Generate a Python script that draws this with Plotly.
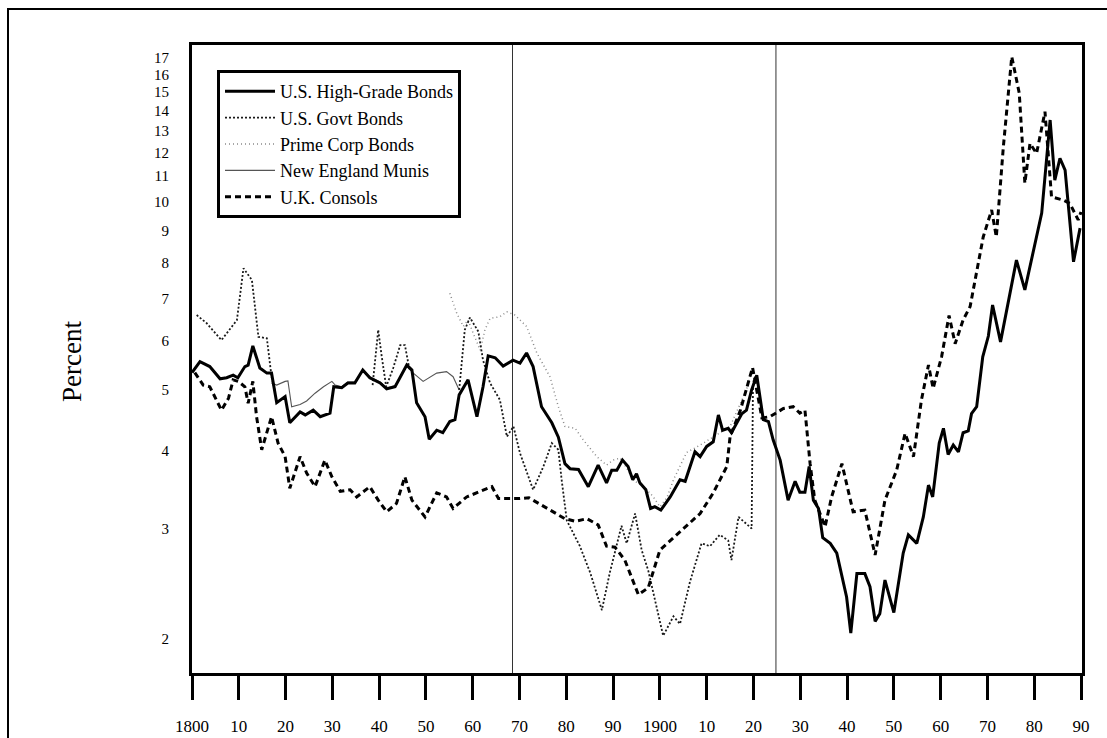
import plotly.graph_objects as go

# ---- series: (year, percent) ----
high_grade = [
    (1800.0, 5.33), (1801.7, 5.55), (1803.8, 5.45), (1806.0, 5.21), (1807.4, 5.23),
    (1808.8, 5.28), (1809.8, 5.23), (1811.3, 5.45), (1812.0, 5.48), (1813.0, 5.88),
    (1814.5, 5.42), (1816.0, 5.32), (1817.0, 5.32), (1818.1, 4.77), (1819.9, 4.88),
    (1820.9, 4.43), (1823.1, 4.61), (1824.2, 4.56), (1825.9, 4.64), (1827.4, 4.53),
    (1829.5, 4.59), (1830.3, 5.06), (1832.0, 5.04), (1833.3, 5.13), (1834.8, 5.13),
    (1836.5, 5.38), (1838.0, 5.23), (1840.2, 5.13), (1841.6, 5.02), (1843.4, 5.06),
    (1845.9, 5.48), (1847.0, 5.38), (1848.0, 4.77), (1849.8, 4.53), (1850.7, 4.17),
    (1852.3, 4.31), (1853.6, 4.27), (1855.1, 4.45), (1856.2, 4.48), (1857.1, 4.91),
    (1859.0, 5.19), (1860.9, 4.53), (1862.2, 5.06), (1863.3, 5.67), (1864.8, 5.63),
    (1866.5, 5.46), (1868.6, 5.58), (1870.1, 5.52), (1871.5, 5.73), (1872.9, 5.45),
    (1874.7, 4.70), (1876.9, 4.43), (1878.3, 4.20), (1879.7, 3.81), (1880.8, 3.74),
    (1882.6, 3.73), (1884.7, 3.50), (1886.8, 3.79), (1888.6, 3.55), (1889.7, 3.72),
    (1890.8, 3.72), (1892.0, 3.86), (1893.2, 3.77), (1894.2, 3.59), (1895.0, 3.67),
    (1895.7, 3.55), (1897.0, 3.46), (1898.0, 3.23), (1898.9, 3.25), (1900.2, 3.21),
    (1902.2, 3.37), (1904.3, 3.59), (1905.4, 3.57), (1907.5, 3.98), (1908.6, 3.91),
    (1910.0, 4.06), (1911.4, 4.13), (1912.5, 4.56), (1913.4, 4.31), (1914.6, 4.34),
    (1915.3, 4.27), (1916.4, 4.42), (1917.5, 4.58), (1918.5, 4.64), (1919.6, 5.00),
    (1920.7, 5.28), (1921.4, 4.88), (1922.1, 4.48), (1923.2, 4.45), (1924.2, 4.16),
    (1925.7, 3.86), (1927.4, 3.33), (1928.9, 3.57), (1929.9, 3.43), (1931.0, 3.43),
    (1931.9, 3.77), (1932.8, 3.33), (1933.9, 3.23), (1934.8, 2.90), (1936.4, 2.84),
    (1937.8, 2.74), (1939.9, 2.33), (1940.8, 2.04), (1942.1, 2.54), (1943.8, 2.54),
    (1944.9, 2.42), (1946.0, 2.13), (1947.0, 2.19), (1948.1, 2.48), (1950.0, 2.20),
    (1952.0, 2.74), (1953.1, 2.93), (1954.9, 2.84), (1956.3, 3.13), (1957.4, 3.52),
    (1958.3, 3.37), (1959.7, 4.11), (1960.6, 4.34), (1961.6, 3.94), (1962.7, 4.08),
    (1963.8, 3.98), (1964.8, 4.27), (1965.9, 4.30), (1966.6, 4.58), (1967.7, 4.70),
    (1969.0, 5.65), (1970.2, 6.10), (1971.1, 6.84), (1972.8, 5.97), (1974.5, 6.97),
    (1976.2, 8.07), (1978.0, 7.23), (1980.5, 8.79), (1981.6, 9.60), (1983.4, 13.53),
    (1984.4, 10.84), (1985.5, 11.75), (1986.6, 11.25), (1988.4, 8.02), (1989.8, 9.08),
]

# None entries break the line between separate runs of quotations
us_govt = [
    (1801.0, 6.59), (1803.1, 6.40), (1806.3, 6.01), (1809.6, 6.47), (1811.0, 7.83),
    (1812.8, 7.50), (1814.2, 6.08), (1816.0, 6.05), (1817.0, 5.25), (1817.7, 5.00),
    (1818.0, None),
    (1838.6, 5.09), (1839.8, 6.24), (1840.5, 5.69), (1841.5, 5.06), (1843.0, 5.42),
    (1844.5, 5.90), (1845.5, 5.90), (1846.5, 5.38),
    (1850.0, None),
    (1857.1, 5.00), (1858.3, 6.24), (1859.4, 6.53), (1861.2, 6.20), (1862.2, 5.58),
    (1863.7, 5.13), (1865.8, 4.82), (1867.3, 4.21), (1868.7, 4.37), (1870.1, 3.96),
    (1872.9, 3.46), (1875.1, 3.77), (1876.9, 4.11), (1878.3, 4.01), (1879.0, 3.59),
    (1880.1, 3.09), (1882.9, 2.81), (1885.1, 2.55), (1887.6, 2.22), (1889.3, 2.55),
    (1891.8, 3.03), (1892.9, 2.84), (1894.7, 3.17), (1896.1, 2.77), (1897.5, 2.57),
    (1899.3, 2.25), (1900.7, 2.02), (1902.9, 2.17), (1904.3, 2.11), (1906.4, 2.46),
    (1908.9, 2.84), (1910.7, 2.81), (1912.8, 2.93), (1914.6, 2.87), (1915.3, 2.67),
    (1916.8, 3.13), (1918.9, 3.04), (1919.6, 3.00), (1919.9, 5.13), (1920.3, 5.25),
]

prime_corp = [
    (1855.1, 7.14), (1856.6, 6.63), (1858.0, 6.32), (1859.0, 6.47), (1860.3, 6.11),
    (1861.6, 5.79), (1862.6, 6.24), (1863.7, 6.51), (1865.8, 6.55), (1867.3, 6.67),
    (1869.0, 6.59), (1871.5, 6.32), (1873.7, 5.73), (1876.5, 5.25), (1878.3, 4.70),
    (1879.7, 4.37), (1881.9, 4.34), (1883.6, 4.16), (1886.5, 3.91), (1888.6, 3.79),
    (1890.0, 3.86), (1891.5, 3.89), (1892.9, 3.75), (1894.3, 3.59), (1897.2, 3.46),
    (1898.6, 3.37), (1900.0, 3.25), (1901.5, 3.36), (1902.9, 3.59), (1905.7, 3.97),
    (1908.6, 4.08), (1911.4, 4.21), (1915.0, 4.37), (1918.5, 5.00), (1919.8, 5.43),
]

ne_munis = [
    (1817.0, 5.13), (1818.1, 5.09), (1819.9, 5.16), (1820.5, 5.17), (1821.3, 4.70),
    (1823.1, 4.74), (1824.5, 4.80), (1826.3, 4.94), (1828.1, 5.06), (1829.9, 5.16),
    (1830.6, 5.09), (1832.0, 5.06), (1833.3, 5.15), (1834.8, 5.15), (1836.5, 5.38),
    (1838.0, 5.25), (1840.2, 5.15), (1841.6, 5.04), (1843.4, 5.08), (1845.9, 5.46),
    (1847.3, 5.32), (1849.4, 5.16), (1852.3, 5.32), (1854.4, 5.35), (1855.8, 5.25),
    (1857.1, 5.00),
]

uk_consols = [
    (1800.6, 5.33), (1802.4, 5.09), (1803.8, 5.06), (1806.3, 4.64), (1807.8, 4.85),
    (1808.8, 5.19), (1809.9, 5.16), (1811.3, 5.06), (1812.0, 4.76), (1813.0, 5.16),
    (1813.8, 4.53), (1814.9, 4.01), (1817.0, 4.53), (1818.4, 4.11), (1819.9, 3.91),
    (1820.9, 3.48), (1823.1, 3.91), (1824.5, 3.68), (1826.3, 3.50), (1828.4, 3.86),
    (1829.9, 3.63), (1831.7, 3.44), (1833.8, 3.46), (1835.2, 3.37), (1838.0, 3.50),
    (1839.8, 3.33), (1841.6, 3.19), (1843.7, 3.29), (1845.5, 3.63), (1847.0, 3.33),
    (1849.8, 3.13), (1852.3, 3.42), (1854.4, 3.37), (1855.8, 3.23), (1858.7, 3.37),
    (1861.6, 3.44), (1864.1, 3.50), (1865.5, 3.35), (1870.1, 3.35), (1872.0, 3.36),
    (1876.5, 3.21), (1879.7, 3.11), (1881.9, 3.08), (1884.4, 3.11), (1886.8, 3.04),
    (1888.6, 2.81), (1890.4, 2.80), (1892.5, 2.67), (1895.4, 2.35), (1897.5, 2.41),
    (1900.0, 2.77), (1902.9, 2.90), (1905.7, 3.02), (1908.6, 3.17), (1911.4, 3.42),
    (1914.3, 3.77), (1915.0, 4.21), (1917.2, 4.64), (1919.8, 5.43), (1921.8, 4.51),
    (1923.5, 4.53), (1926.4, 4.67), (1928.5, 4.70), (1929.9, 4.59), (1931.0, 4.64),
    (1932.1, 3.81), (1933.1, 3.33), (1935.3, 3.02), (1936.7, 3.37), (1938.9, 3.81),
    (1941.3, 3.19), (1943.8, 3.21), (1946.0, 2.72), (1948.1, 3.33), (1950.6, 3.72),
    (1952.4, 4.26), (1954.2, 3.91), (1955.9, 4.82), (1957.4, 5.48), (1958.4, 5.03),
    (1960.2, 5.65), (1961.8, 6.58), (1963.1, 5.93), (1964.8, 6.47), (1966.3, 6.80),
    (1969.1, 8.79), (1970.9, 9.71), (1971.9, 8.79), (1973.4, 12.25), (1975.2, 17.09),
    (1976.8, 14.94), (1978.0, 10.72), (1979.1, 12.41), (1980.5, 11.96), (1982.3, 13.95),
    (1983.7, 10.19), (1986.2, 10.07), (1987.6, 9.95), (1989.4, 9.36), (1990.0, 9.64),
]

# period dividers
dividers = [1868.5, 1924.8]

x_tickvals = list(range(1800, 1991, 10))
x_ticktext = ["1800", "10", "20", "30", "40", "50", "60", "70", "80", "90",
              "1900", "10", "20", "30", "40", "50", "60", "70", "80", "90"]
y_tickvals = [2, 3, 4, 5, 6, 7, 8, 9, 10, 11, 12, 13, 14, 15, 16, 17]

SERIF = "Liberation Serif, Times New Roman, serif"


def xs(series):
    return [p[0] for p in series]


def ys(series):
    return [p[1] for p in series]


fig = go.Figure()

# thin series first so the heavy lines sit on top
fig.add_trace(go.Scatter(
    x=xs(ne_munis), y=ys(ne_munis), mode="lines", name="New England Munis",
    legendrank=4, line=dict(color="#555555", width=1.1)))
fig.add_trace(go.Scatter(
    x=xs(prime_corp), y=ys(prime_corp), mode="lines", name="Prime Corp Bonds",
    legendrank=3, line=dict(color="#8a8a8a", width=1.5, dash="1px,3px")))
fig.add_trace(go.Scatter(
    x=xs(us_govt), y=ys(us_govt), mode="lines", name="U.S. Govt Bonds",
    legendrank=2, line=dict(color="#1a1a1a", width=1.8, dash="2px,2px")))
fig.add_trace(go.Scatter(
    x=xs(uk_consols), y=ys(uk_consols), mode="lines", name="U.K. Consols",
    legendrank=5, line=dict(color="#000000", width=3, dash="6px,4px")))
fig.add_trace(go.Scatter(
    x=xs(high_grade), y=ys(high_grade), mode="lines", name="U.S. High-Grade Bonds",
    legendrank=1, line=dict(color="#000000", width=3)))

shapes = []
for d in dividers:
    shapes.append(dict(type="line", xref="x", yref="paper", x0=d, x1=d, y0=0, y1=1,
                       line=dict(color="#333333", width=1), layer="below"))
# outer frame of the figure
shapes.append(dict(type="rect", xref="paper", yref="paper",
                   x0=(8 - 192) / 890, x1=1.06, y0=-0.2, y1=(673 - 9) / 628,
                   line=dict(color="black", width=2), fillcolor="rgba(0,0,0,0)"))

fig.update_layout(
    width=1107, height=738,
    margin=dict(l=192, r=25, t=45, b=65, autoexpand=False),
    paper_bgcolor="white", plot_bgcolor="white",
    font=dict(family=SERIF, color="black"),
    showlegend=True,
    legend=dict(x=(217 - 192) / 890, y=(673 - 70) / 628, xanchor="left", yanchor="top",
                bgcolor="white", bordercolor="black", borderwidth=3,
                font=dict(family=SERIF, size=18, color="black"),
                itemwidth=50, tracegroupgap=0),
    shapes=shapes,
    annotations=[dict(text="Percent", xref="paper", yref="paper",
                      x=(55 - 192) / 890, y=(673 - 362) / 628, showarrow=False,
                      textangle=-90, font=dict(family=SERIF, size=27, color="black"))],
)

fig.update_xaxes(
    range=[1800, 1800 + 890 / 4.679], showgrid=False, zeroline=False,
    showline=True, mirror=True, linecolor="black", linewidth=3,
    tickvals=x_tickvals, ticktext=x_ticktext,
    ticks="outside", ticklen=24, tickwidth=3, tickcolor="black",
    ticklabelstandoff=12, automargin=False,
    tickfont=dict(family=SERIF, size=17, color="black"))
fig.update_yaxes(
    type="log", range=[0.24564, 1.25141], showgrid=False, zeroline=False,
    showline=True, mirror=True, linecolor="black", linewidth=3,
    tickvals=y_tickvals, ticktext=[str(v) for v in y_tickvals],
    ticks="", ticklabelstandoff=17, automargin=False,
    tickfont=dict(family=SERIF, size=15, color="black"))

fig.write_html("out.html")
